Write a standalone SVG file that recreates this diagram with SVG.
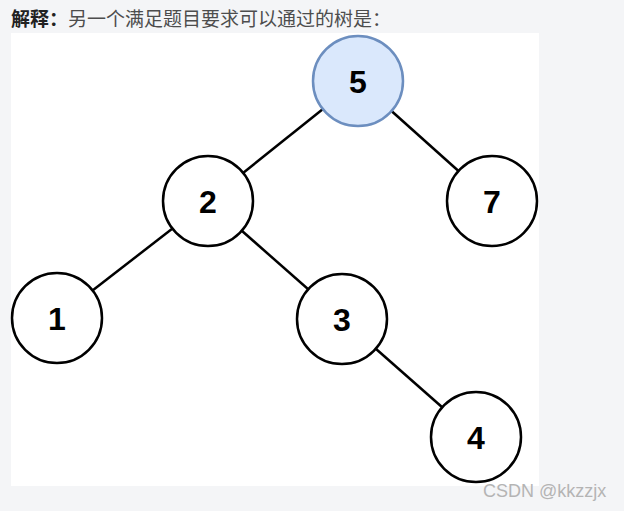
<svg xmlns="http://www.w3.org/2000/svg" width="624" height="511" viewBox="0 0 624 511">
<style>
.node circle{fill:#ffffff;stroke:#000000;stroke-width:2.5}
.node text{font-family:"Liberation Sans",Arial,sans-serif;font-weight:bold;font-size:32px;text-anchor:middle;fill:#000000}
#n5 circle{fill:#dae8fc;stroke:#6c8ebf}
.edges line{stroke:#000000;stroke-width:2.5}
</style>
<rect x="0" y="0" width="624" height="511" fill="#f4f5f7"/>
<rect x="11" y="33" width="528" height="453" fill="#ffffff"/>
<text x="11" y="26" font-family="'Noto Sans CJK SC',sans-serif" font-size="19" fill="#4d4d4d"><tspan font-weight="bold" fill="#222222">解释：</tspan>另一个满足题目要求可以通过的树是：</text>
<g class="edges">
<line x1="358" y1="81" x2="208" y2="201"/>
<line x1="358" y1="81" x2="492" y2="201"/>
<line x1="208" y1="201" x2="57" y2="318"/>
<line x1="208" y1="201" x2="342" y2="319"/>
<line x1="342" y1="319" x2="476" y2="437"/>
</g>
<g id="n5" class="node"><circle cx="358" cy="81" r="45"/><text x="358" y="93">5</text></g>
<g id="n2" class="node"><circle cx="208" cy="201" r="45"/><text x="208" y="213">2</text></g>
<g id="n7" class="node"><circle cx="492" cy="201" r="45"/><text x="492" y="213">7</text></g>
<g id="n1" class="node"><circle cx="57" cy="318" r="45"/><text x="57" y="330">1</text></g>
<g id="n3" class="node"><circle cx="342" cy="319" r="45"/><text x="342" y="331">3</text></g>
<g id="n4" class="node"><circle cx="476" cy="437" r="45"/><text x="476" y="449">4</text></g>
<text x="483" y="497" font-family="'Liberation Sans',Arial,sans-serif" font-size="18" fill="#b4b4b4">CSDN @kkzzjx</text>
</svg>
